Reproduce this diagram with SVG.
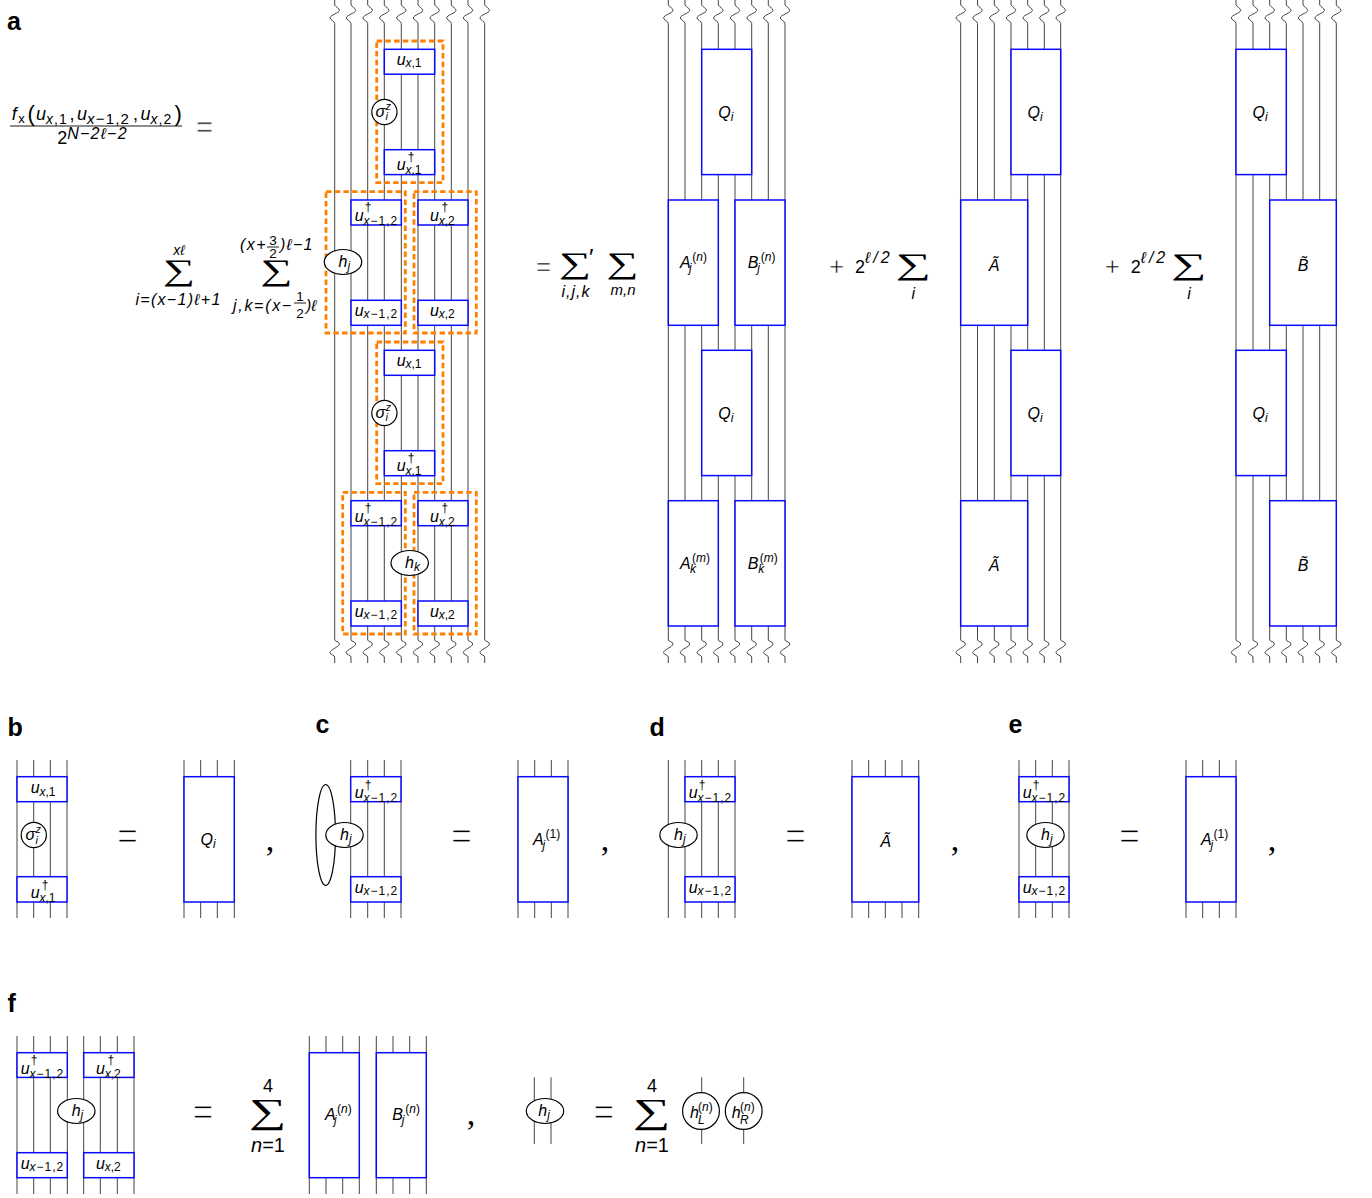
<svg xmlns="http://www.w3.org/2000/svg" width="1372" height="1198" viewBox="0 0 1372 1198">
<style>
text{font-family:"Liberation Sans",Arial,sans-serif;fill:#000}
.m{font-size:16px;font-style:italic}
.s{font-size:12px;font-style:normal}
.sl{font-size:12px;font-style:normal;letter-spacing:1px}
.i{font-style:italic}
.b{font-size:25px;font-weight:700}
.r{font-size:18px}
.t{font-size:16px;font-style:italic}
.c{text-anchor:middle}
.eq{font-size:36px;text-anchor:middle;stroke:#fff;stroke-width:1.1}
.eq2{font-size:30px;text-anchor:middle;stroke:#fff;stroke-width:.8}
.eq3{font-size:26px;text-anchor:middle;stroke:#fff;stroke-width:.6}
.sum{font-family:"Liberation Serif","DejaVu Serif",serif;font-size:30px;text-anchor:middle}
.sum2{font-family:"Liberation Serif","DejaVu Serif",serif;font-size:35px;text-anchor:middle}
.com{font-size:34px;text-anchor:middle;font-family:"Liberation Serif",serif}
.l{fill:none;stroke:#444;stroke-width:1}
.bx{fill:#fff;stroke:#0a0aff;stroke-width:1.5}
.el{fill:#fff;stroke:#000;stroke-width:1.2}
.fr{fill:none;stroke:#ff8000;stroke-width:2.8;stroke-dasharray:5.5 3.2}
.bar{stroke:#000;stroke-width:.9}
</style>
<defs>
<path id="w" class="l" d="M0,0V5C1,7 4.7,8 4.7,10.5C4.7,13 -4.7,15 -4.7,18C-4.7,20 0,21 0,23.5V640C0,641.5 4.7,641.5 4.7,644C4.7,647 -4.7,649.5 -4.7,652.7C-4.7,654.7 0,655 0,657V663"/>
<path id="v" class="l" d="M0,0V158"/>
</defs>
<g id="connectors">
<use href="#w" x="334.7"/><use href="#w" x="351"/><use href="#w" x="367.7"/><use href="#w" x="384.3"/><use href="#w" x="401.3"/><use href="#w" x="418"/><use href="#w" x="434.7"/><use href="#w" x="451.3"/><use href="#w" x="468"/><use href="#w" x="484.7"/>
<use href="#w" x="668.3"/><use href="#w" x="685"/><use href="#w" x="701.7"/><use href="#w" x="718.3"/><use href="#w" x="735"/><use href="#w" x="751.7"/><use href="#w" x="768.3"/><use href="#w" x="785"/>
<use href="#w" x="960.7"/><use href="#w" x="977.5"/><use href="#w" x="994.3"/><use href="#w" x="1011"/><use href="#w" x="1027.7"/><use href="#w" x="1044.3"/><use href="#w" x="1060.7"/>
<use href="#w" x="1236"/><use href="#w" x="1253"/><use href="#w" x="1269.7"/><use href="#w" x="1286.3"/><use href="#w" x="1303"/><use href="#w" x="1319.7"/><use href="#w" x="1336.3"/>
<use href="#v" x="17" y="760"/><use href="#v" x="33.7" y="760"/><use href="#v" x="50.3" y="760"/><use href="#v" x="67" y="760"/>
<use href="#v" x="184" y="760"/><use href="#v" x="200.7" y="760"/><use href="#v" x="217.3" y="760"/><use href="#v" x="234.3" y="760"/>
<use href="#v" x="350.7" y="760"/><use href="#v" x="367.7" y="760"/><use href="#v" x="384.3" y="760"/><use href="#v" x="401" y="760"/>
<use href="#v" x="518" y="760"/><use href="#v" x="534.7" y="760"/><use href="#v" x="551.3" y="760"/><use href="#v" x="568" y="760"/>
<use href="#v" x="668.3" y="760"/><use href="#v" x="685" y="760"/><use href="#v" x="701.7" y="760"/><use href="#v" x="718.3" y="760"/><use href="#v" x="735" y="760"/>
<use href="#v" x="852" y="760"/><use href="#v" x="868.7" y="760"/><use href="#v" x="885.3" y="760"/><use href="#v" x="902" y="760"/><use href="#v" x="918.7" y="760"/>
<use href="#v" x="1019" y="760"/><use href="#v" x="1035.7" y="760"/><use href="#v" x="1052.3" y="760"/><use href="#v" x="1069" y="760"/>
<use href="#v" x="1186" y="760"/><use href="#v" x="1202.7" y="760"/><use href="#v" x="1219.3" y="760"/><use href="#v" x="1236" y="760"/>
<use href="#v" x="17" y="1036"/><use href="#v" x="33.7" y="1036"/><use href="#v" x="50.3" y="1036"/><use href="#v" x="67.3" y="1036"/><use href="#v" x="83.7" y="1036"/><use href="#v" x="100.3" y="1036"/><use href="#v" x="117.3" y="1036"/><use href="#v" x="134" y="1036"/>
<use href="#v" x="309.3" y="1036"/><use href="#v" x="326" y="1036"/><use href="#v" x="342.7" y="1036"/><use href="#v" x="359.3" y="1036"/><use href="#v" x="376.3" y="1036"/><use href="#v" x="393" y="1036"/><use href="#v" x="409.7" y="1036"/><use href="#v" x="426.3" y="1036"/>
<path class="l" d="M534.3,1077.3V1144M551,1077.3V1144M701.7,1077.3V1144M743.7,1077.3V1144"/>
</g>
<g id="frames">
<rect class="fr" x="376.7" y="41" width="66.3" height="141.6"/>
<rect class="fr" x="326" y="191.7" width="79.3" height="141.3"/>
<rect class="fr" x="414" y="191.7" width="62.3" height="141.3"/>
<rect class="fr" x="376.7" y="342" width="66.3" height="141.6"/>
<rect class="fr" x="342.7" y="492.3" width="62.6" height="141.7"/>
<rect class="fr" x="414" y="492.3" width="62.3" height="141.7"/>
</g>
<g id="labels">
<text class="b" x="7" y="30">a</text><text class="b" x="7.5" y="736">b</text><text class="b" x="315.5" y="733">c</text><text class="b" x="649.5" y="736">d</text><text class="b" x="1008.5" y="733">e</text><text class="b" x="7.5" y="1012">f</text>
</g>
<g id="equation-a">
<text class="r" x="11.7" y="120" style="font-style:italic">f<tspan class="s" dy="3" style="font-size:13px" dx="1.5">x</tspan></text>
<text x="27.5" y="121" style="font-size:22px">(</text>
<text class="r" x="36" y="120" style="font-style:italic">u<tspan class="s" dy="3.5" style="font-size:14px;letter-spacing:1px"><tspan class="i">x</tspan>,1</tspan></text>
<text class="r" x="69.5" y="120">,</text>
<text class="r" x="77" y="120" style="font-style:italic">u<tspan class="s" dy="3.5" style="font-size:15px;letter-spacing:1.2px"><tspan class="i">x</tspan>−1,2</tspan></text>
<text class="r" x="133" y="120">,</text>
<text class="r" x="140.5" y="120" style="font-style:italic">u<tspan class="s" dy="3.5" style="font-size:14px;letter-spacing:1px"><tspan class="i">x</tspan>,2</tspan></text>
<text x="174.5" y="121" style="font-size:22px">)</text>
<line class="bar" x1="10" y1="126" x2="182" y2="126"/>
<text class="r" x="57.3" y="144">2<tspan class="t" dy="-5.5" letter-spacing="1.2"><tspan class="i">N</tspan>−2ℓ−2</tspan></text>
<text class="eq2" x="204.5" y="137">=</text>
<text class="sum" transform="translate(179,280) scale(1.5,1)">∑</text>
<text class="t c" x="179" y="255" style="font-size:14px">xℓ</text>
<text class="t c" x="178.5" y="305" letter-spacing="1.3">i=(x−1)ℓ+1</text>
<text class="sum" transform="translate(276.5,280) scale(1.5,1)">∑</text>
<text class="t" x="240" y="250" letter-spacing="1.5">(x+</text>
<text class="s c" x="273" y="244.5" style="font-size:13.5px">3</text><line class="bar" x1="267" y1="247" x2="279" y2="247"/><text class="s c" x="273" y="257.5" style="font-size:13.5px">2</text>
<text class="t" x="280" y="250" letter-spacing="1.2">)ℓ−1</text>
<text class="t" x="233" y="311" letter-spacing="1.7">j,k=(x−</text>
<text class="s c" x="300" y="300.5" style="font-size:13.5px">1</text><line class="bar" x1="294" y1="303" x2="306" y2="303"/><text class="s c" x="300" y="318" style="font-size:13.5px">2</text>
<text class="t" x="306" y="311">)ℓ</text>
<text class="eq3" x="543.5" y="275">=</text>
<text class="sum" transform="translate(575,272.5) scale(1.5,1)">∑</text>
<text class="t" x="589" y="266" style="font-size:24px;font-style:normal">′</text>
<text class="t c" x="576" y="297" letter-spacing="1">i,j,k</text>
<text class="sum" transform="translate(622.5,272.5) scale(1.5,1)">∑</text>
<text class="t c" x="623" y="295" style="font-size:15px">m,n</text>
<text class="eq3" x="836.7" y="275">+</text>
<text class="r" x="855" y="273.3">2<tspan class="t" dy="-10" letter-spacing="3">ℓ/2</tspan></text>
<text class="sum" transform="translate(913.5,273.5) scale(1.65,1)">∑</text>
<text class="t c" x="913.3" y="299">i</text>
<text class="eq3" x="1112.3" y="275">+</text>
<text class="r" x="1130.7" y="273.3">2<tspan class="t" dy="-10" letter-spacing="3">ℓ/2</tspan></text>
<text class="sum" transform="translate(1189,273.5) scale(1.65,1)">∑</text>
<text class="t c" x="1189" y="299">i</text>
</g>
<g id="a-ux1-1"><rect class="bx" x="384.3" y="49.3" width="50.4" height="24.9"/><text class="m" transform="translate(396.7,64.5)">u<tspan class="s" x="8.7" y="2.5"><tspan class="i">x</tspan>,1</tspan></text></g>
<g id="a-sigma-1"><circle class="el" cx="384.4" cy="112" r="12.6"/><text class="m" transform="translate(375.4,116.5)">σ<tspan class="s" x="10" y="-7" style="font-size:11px"><tspan class="i">z</tspan></tspan><tspan class="s i" x="10" y="3.5" style="font-size:11px">i</tspan></text></g>
<g id="a-udx1-1"><rect class="bx" x="384.3" y="149.7" width="50.4" height="24.9"/><text class="m" transform="translate(396.7,170)">u<tspan class="s" x="11" y="-9.5">†</tspan><tspan class="s" x="8.7" y="4"><tspan class="i">x</tspan>,1</tspan></text></g>
<g id="a-udx12-1"><rect class="bx" x="351" y="200" width="50.3" height="25"/><text class="m" transform="translate(354.8,220.5)">u<tspan class="s" x="10" y="-9.5">†</tspan><tspan class="sl" x="8.7" y="4"><tspan class="i">x</tspan>−1,2</tspan></text></g>
<g id="a-udx2-1"><rect class="bx" x="418" y="200" width="50" height="25"/><text class="m" transform="translate(430,220.5)">u<tspan class="s" x="11.5" y="-9.5">†</tspan><tspan class="s" x="8.7" y="4"><tspan class="i">x</tspan>,2</tspan></text></g>
<g id="a-hj"><ellipse class="el" cx="343" cy="262" rx="18.7" ry="12.5"/><text class="m" x="338.5" y="267">h<tspan class="s i" dy="3">j</tspan></text></g>
<g id="a-ux12-1"><rect class="bx" x="351" y="300.3" width="50.3" height="25"/><text class="m" transform="translate(354.8,316)">u<tspan class="sl" x="8.7" y="2"><tspan class="i">x</tspan>−1,2</tspan></text></g>
<g id="a-ux2-1"><rect class="bx" x="418" y="300.3" width="50" height="25"/><text class="m" transform="translate(430,316)">u<tspan class="s" x="8.7" y="2"><tspan class="i">x</tspan>,2</tspan></text></g>
<g id="a-ux1-2"><rect class="bx" x="384.3" y="350.3" width="50.4" height="25"/><text class="m" transform="translate(396.7,365.5)">u<tspan class="s" x="8.7" y="2.5"><tspan class="i">x</tspan>,1</tspan></text></g>
<g id="a-sigma-2"><circle class="el" cx="384.4" cy="413" r="12.6"/><text class="m" transform="translate(375.4,417.5)">σ<tspan class="s" x="10" y="-7" style="font-size:11px"><tspan class="i">z</tspan></tspan><tspan class="s i" x="10" y="3.5" style="font-size:11px">i</tspan></text></g>
<g id="a-udx1-2"><rect class="bx" x="384.3" y="450.7" width="50.4" height="25"/><text class="m" transform="translate(396.7,471)">u<tspan class="s" x="11" y="-9.5">†</tspan><tspan class="s" x="8.7" y="4"><tspan class="i">x</tspan>,1</tspan></text></g>
<g id="a-udx12-2"><rect class="bx" x="351" y="500.7" width="50.3" height="25"/><text class="m" transform="translate(354.8,521.5)">u<tspan class="s" x="10" y="-9.5">†</tspan><tspan class="sl" x="8.7" y="4"><tspan class="i">x</tspan>−1,2</tspan></text></g>
<g id="a-udx2-2"><rect class="bx" x="418" y="500.7" width="50" height="25"/><text class="m" transform="translate(430,521.5)">u<tspan class="s" x="11.5" y="-9.5">†</tspan><tspan class="s" x="8.7" y="4"><tspan class="i">x</tspan>,2</tspan></text></g>
<g id="a-hk"><ellipse class="el" cx="409.7" cy="563" rx="18.7" ry="12.5"/><text class="m" x="405" y="568">h<tspan class="s i" dy="3">k</tspan></text></g>
<g id="a-ux12-2"><rect class="bx" x="351" y="601" width="50.3" height="25"/><text class="m" transform="translate(354.8,616.7)">u<tspan class="sl" x="8.7" y="2"><tspan class="i">x</tspan>−1,2</tspan></text></g>
<g id="a-ux2-2"><rect class="bx" x="418" y="601" width="50" height="25"/><text class="m" transform="translate(430,616.7)">u<tspan class="s" x="8.7" y="2"><tspan class="i">x</tspan>,2</tspan></text></g>
<g id="a2-q1"><rect class="bx" x="701.7" y="49.3" width="50" height="125.3"/><text class="m" transform="translate(718.3,118)">Q<tspan class="s i" dy="2.5">i</tspan></text></g>
<g id="a2-a1"><rect class="bx" x="668.3" y="200" width="50" height="125.3"/><text class="m" transform="translate(680,268.3)">A<tspan class="s" x="12.3" y="-7.5">(<tspan class="i">n</tspan>)</tspan><tspan class="s i" x="9" y="3.5">j</tspan></text></g>
<g id="a2-b1"><rect class="bx" x="735" y="200" width="50" height="125.3"/><text class="m" transform="translate(747.7,268.3)">B<tspan class="s" x="13" y="-7.5">(<tspan class="i">n</tspan>)</tspan><tspan class="s i" x="9.5" y="3.5">j</tspan></text></g>
<g id="a2-q2"><rect class="bx" x="701.7" y="350.3" width="50" height="125.3"/><text class="m" transform="translate(718.3,419)">Q<tspan class="s i" dy="2.5">i</tspan></text></g>
<g id="a2-a2"><rect class="bx" x="668.3" y="500.7" width="50" height="125.3"/><text class="m" transform="translate(680,569.3)">A<tspan class="s" x="12" y="-7.5">(<tspan class="i">m</tspan>)</tspan><tspan class="s i" x="10" y="3.5">k</tspan></text></g>
<g id="a2-b2"><rect class="bx" x="735" y="500.7" width="50" height="125.3"/><text class="m" transform="translate(747.7,569.3)">B<tspan class="s" x="12" y="-7.5">(<tspan class="i">m</tspan>)</tspan><tspan class="s i" x="10.5" y="3.5">k</tspan></text></g>
<g id="a3-q1"><rect class="bx" x="1011" y="49.3" width="49.7" height="125.3"/><text class="m" transform="translate(1027.5,118)">Q<tspan class="s i" dy="2.5">i</tspan></text></g>
<g id="a3-a1"><rect class="bx" x="960.7" y="200" width="67" height="125.3"/><text class="m c" x="994" y="270.5">Ã</text></g>
<g id="a3-q2"><rect class="bx" x="1011" y="350.3" width="49.7" height="125.3"/><text class="m" transform="translate(1027.5,419)">Q<tspan class="s i" dy="2.5">i</tspan></text></g>
<g id="a3-a2"><rect class="bx" x="960.7" y="500.7" width="67" height="125.3"/><text class="m c" x="994" y="571.2">Ã</text></g>
<g id="a4-q1"><rect class="bx" x="1236" y="49.3" width="50.3" height="125.3"/><text class="m" transform="translate(1252.5,118)">Q<tspan class="s i" dy="2.5">i</tspan></text></g>
<g id="a4-b1"><rect class="bx" x="1269.7" y="200" width="66.6" height="125.3"/><text class="m c" x="1303" y="270.5">B̃</text></g>
<g id="a4-q2"><rect class="bx" x="1236" y="350.3" width="50.3" height="125.3"/><text class="m" transform="translate(1252.5,419)">Q<tspan class="s i" dy="2.5">i</tspan></text></g>
<g id="a4-b2"><rect class="bx" x="1269.7" y="500.7" width="66.6" height="125.3"/><text class="m c" x="1303" y="571.2">B̃</text></g>
<g id="b-ux1"><rect class="bx" x="17" y="776.7" width="50" height="25"/><text class="m" transform="translate(30.7,793)">u<tspan class="s" x="8.7" y="2.5"><tspan class="i">x</tspan>,1</tspan></text></g>
<g id="b-sigma"><circle class="el" cx="33.8" cy="835" r="12.6"/><text class="m" transform="translate(25.5,840)">σ<tspan class="s" x="10" y="-7" style="font-size:11px"><tspan class="i">z</tspan></tspan><tspan class="s i" x="10" y="3.5" style="font-size:11px">i</tspan></text></g>
<g id="b-udx1"><rect class="bx" x="17" y="876.7" width="50" height="25.3"/><text class="m" transform="translate(30.7,898)">u<tspan class="s" x="11" y="-9.5">†</tspan><tspan class="s" x="8.7" y="4"><tspan class="i">x</tspan>,1</tspan></text></g>
<g id="b-q"><rect class="bx" x="184" y="776.7" width="50.3" height="125.3"/><text class="m" transform="translate(200.5,845)">Q<tspan class="s i" dy="2.5">i</tspan></text></g>
<text class="eq" x="127.5" y="848">=</text><text class="com" x="270" y="851">,</text>
<g id="c-loop"><ellipse class="el" cx="325.7" cy="835" rx="9.8" ry="50.5"/></g>
<g id="c-hj"><ellipse class="el" cx="344.5" cy="835" rx="18.7" ry="12.5"/><text class="m" x="340" y="840">h<tspan class="s i" dy="3">j</tspan></text></g>
<g id="c-udx12"><rect class="bx" x="350.7" y="776.7" width="50.3" height="25"/><text class="m" transform="translate(354.8,798)">u<tspan class="s" x="10" y="-9.5">†</tspan><tspan class="sl" x="8.7" y="4"><tspan class="i">x</tspan>−1,2</tspan></text></g>
<g id="c-ux12"><rect class="bx" x="350.7" y="876.7" width="50.3" height="25.3"/><text class="m" transform="translate(354.8,893)">u<tspan class="sl" x="8.7" y="2"><tspan class="i">x</tspan>−1,2</tspan></text></g>
<g id="c-a"><rect class="bx" x="518" y="776.7" width="50" height="125.3"/><text class="m" transform="translate(533,845)">A<tspan class="s" x="12.5" y="-7.5">(1)</tspan><tspan class="s i" x="9.5" y="3.5">j</tspan></text></g>
<text class="eq" x="461.5" y="848">=</text><text class="com" x="605" y="851">,</text>
<g id="d-hj"><ellipse class="el" cx="678.5" cy="835" rx="18.7" ry="12.5"/><text class="m" x="674" y="840">h<tspan class="s i" dy="3">j</tspan></text></g>
<g id="d-udx12"><rect class="bx" x="685" y="776.7" width="50" height="25"/><text class="m" transform="translate(688.8,798)">u<tspan class="s" x="10" y="-9.5">†</tspan><tspan class="sl" x="8.7" y="4"><tspan class="i">x</tspan>−1,2</tspan></text></g>
<g id="d-ux12"><rect class="bx" x="685" y="876.7" width="50" height="25.3"/><text class="m" transform="translate(688.8,893)">u<tspan class="sl" x="8.7" y="2"><tspan class="i">x</tspan>−1,2</tspan></text></g>
<g id="d-a"><rect class="bx" x="852" y="776.7" width="66.7" height="125.3"/><text class="m c" x="885.5" y="847">Ã</text></g>
<text class="eq" x="795.5" y="848">=</text><text class="com" x="955" y="851">,</text>
<g id="e-hj"><ellipse class="el" cx="1045.5" cy="835" rx="18.7" ry="12.5"/><text class="m" x="1041" y="840">h<tspan class="s i" dy="3">j</tspan></text></g>
<g id="e-udx12"><rect class="bx" x="1019" y="776.7" width="50" height="25"/><text class="m" transform="translate(1022.8,798)">u<tspan class="s" x="10" y="-9.5">†</tspan><tspan class="sl" x="8.7" y="4"><tspan class="i">x</tspan>−1,2</tspan></text></g>
<g id="e-ux12"><rect class="bx" x="1019" y="876.7" width="50" height="25.3"/><text class="m" transform="translate(1022.8,893)">u<tspan class="sl" x="8.7" y="2"><tspan class="i">x</tspan>−1,2</tspan></text></g>
<g id="e-a"><rect class="bx" x="1186" y="776.7" width="50" height="125.3"/><text class="m" transform="translate(1201,845)">A<tspan class="s" x="12.5" y="-7.5">(1)</tspan><tspan class="s i" x="9.5" y="3.5">j</tspan></text></g>
<text class="eq" x="1129.5" y="848">=</text><text class="com" x="1272" y="851">,</text>
<g id="f-udx12"><rect class="bx" x="17" y="1052.7" width="50.3" height="24.7"/><text class="m" transform="translate(20.8,1073.5)">u<tspan class="s" x="10" y="-9.5">†</tspan><tspan class="sl" x="8.7" y="4"><tspan class="i">x</tspan>−1,2</tspan></text></g>
<g id="f-udx2"><rect class="bx" x="83.7" y="1052.7" width="50.3" height="24.7"/><text class="m" transform="translate(96,1073.5)">u<tspan class="s" x="11.5" y="-9.5">†</tspan><tspan class="s" x="8.7" y="4"><tspan class="i">x</tspan>,2</tspan></text></g>
<g id="f-hj"><ellipse class="el" cx="76.3" cy="1111" rx="18.7" ry="12.5"/><text class="m" x="71.7" y="1116">h<tspan class="s i" dy="3">j</tspan></text></g>
<g id="f-ux12"><rect class="bx" x="17" y="1152.7" width="50.3" height="25"/><text class="m" transform="translate(20.8,1169)">u<tspan class="sl" x="8.7" y="2"><tspan class="i">x</tspan>−1,2</tspan></text></g>
<g id="f-ux2"><rect class="bx" x="83.7" y="1152.7" width="50.3" height="25"/><text class="m" transform="translate(96,1169)">u<tspan class="s" x="8.7" y="2"><tspan class="i">x</tspan>,2</tspan></text></g>
<g id="f-a"><rect class="bx" x="309.3" y="1052.7" width="50" height="125"/><text class="m" transform="translate(325,1120)">A<tspan class="s" x="12" y="-7.5">(<tspan class="i">n</tspan>)</tspan><tspan class="s i" x="9" y="3.5">j</tspan></text></g>
<g id="f-b"><rect class="bx" x="376.3" y="1052.7" width="50" height="125"/><text class="m" transform="translate(392.3,1120)">B<tspan class="s" x="13" y="-7.5">(<tspan class="i">n</tspan>)</tspan><tspan class="s i" x="9.5" y="3.5">j</tspan></text></g>
<text class="eq" x="203" y="1124">=</text>
<text class="sum2" transform="translate(268,1123) scale(1.5,1)">∑</text><text class="r c" x="268" y="1091.7">4</text><text class="r c" x="268" y="1151.7" style="font-size:20px"><tspan class="i">n</tspan>=1</text>
<text class="com" x="471" y="1125">,</text>
<g id="f-hj2"><ellipse class="el" cx="545" cy="1111" rx="18.7" ry="12.5"/><text class="m" x="538.3" y="1116">h<tspan class="s i" dy="3">j</tspan></text></g>
<text class="eq" x="603.7" y="1124">=</text>
<text class="sum2" transform="translate(652,1123) scale(1.5,1)">∑</text><text class="r c" x="652" y="1091.7">4</text><text class="r c" x="652" y="1151.7" style="font-size:20px"><tspan class="i">n</tspan>=1</text>
<g id="f-hl"><circle class="el" cx="701" cy="1111" r="18.4"/><text class="m" transform="translate(690,1118)">h<tspan class="s" x="8" y="-7">(<tspan class="i">n</tspan>)</tspan><tspan class="s i" x="8" y="6">L</tspan></text></g>
<g id="f-hr"><circle class="el" cx="743.7" cy="1111" r="18.4"/><text class="m" transform="translate(731.7,1118)">h<tspan class="s" x="8.3" y="-7">(<tspan class="i">n</tspan>)</tspan><tspan class="s i" x="8.3" y="6">R</tspan></text></g>
</svg>
